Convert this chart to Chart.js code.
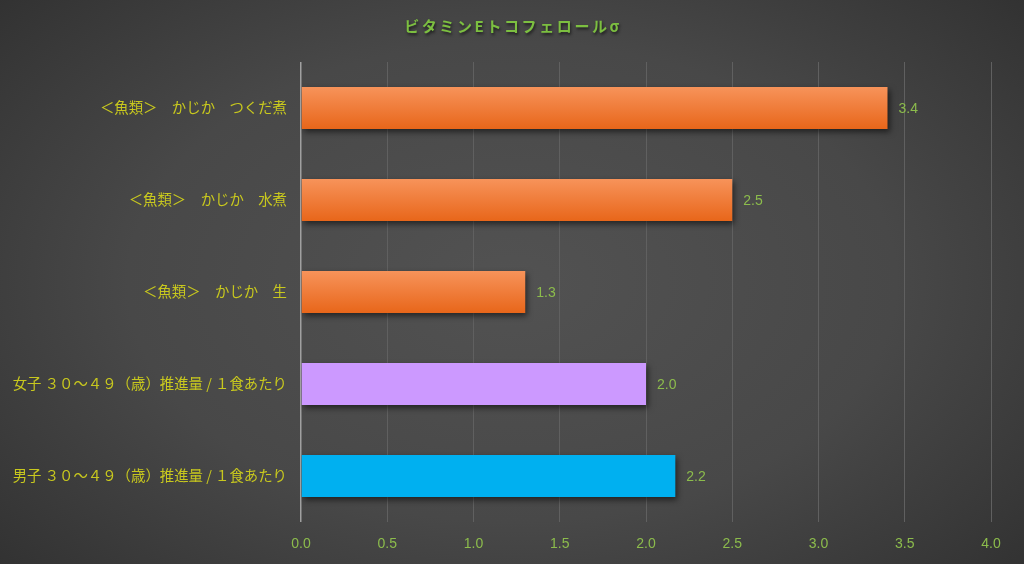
<!DOCTYPE html>
<html>
<head>
<meta charset="utf-8">
<script src="https://cdn.jsdelivr.net/npm/chart.js@4.4.1/dist/chart.umd.min.js"></script>
<style>
html,body{margin:0;padding:0;width:1024px;height:564px;overflow:hidden;}
body{background:radial-gradient(ellipse 75% 85% at 50% 50%, #525252 0%, #484848 50%, #2c2c2c 100%);}
#wrap{position:relative;width:1024px;height:564px;}
</style>
</head>
<body>
<div id="wrap"><canvas id="c" width="1024" height="564"></canvas></div>
<script>
const chartTitle = "ビタミンEトコフェロールσ";
const categories = [
  "＜魚類＞　かじか　つくだ煮",
  "＜魚類＞　かじか　水煮",
  "＜魚類＞　かじか　生",
  "女子 ３０～４９（歳）推進量 / １食あたり",
  "男子 ３０～４９（歳）推進量 / １食あたり"
];
const values = [3.4, 2.5, 1.3, 2.0, 2.17];
const valueLabels = ["3.4", "2.5", "1.3", "2.0", "2.2"];
const barKinds = ["food", "food", "food", "female", "male"];
const xTicks = [0, 0.5, 1, 1.5, 2, 2.5, 3, 3.5, 4];

const BAR_PCT = 0.457;
const numFont = '"Liberation Sans Narrow", "Liberation Sans", sans-serif';

const ctx = document.getElementById('c').getContext('2d');

function barColor(context) {
  const kind = barKinds[context.dataIndex];
  if (kind === 'female') return '#cc99ff';
  if (kind === 'male') return '#00b0f0';
  const chart = context.chart;
  const ys = chart.scales && chart.scales.y;
  if (!ys || !chart.chartArea) return '#ee7a2c';
  const cy = ys.getPixelForValue(context.dataIndex);
  const band = (chart.chartArea.bottom - chart.chartArea.top) / categories.length;
  const h = band * BAR_PCT;
  const g = chart.ctx.createLinearGradient(0, cy - h/2, 0, cy + h/2);
  g.addColorStop(0, '#f7935a');
  g.addColorStop(1, '#e8661a');
  return g;
}

const shadowPlugin = {
  id: 'barShadow',
  beforeDatasetDraw(chart) {
    const c = chart.ctx;
    c.save();
    c.shadowColor = 'rgba(0,0,0,0.55)';
    c.shadowBlur = 6;
    c.shadowOffsetX = 2;
    c.shadowOffsetY = 3;
  },
  afterDatasetDraw(chart) {
    chart.ctx.restore();
  }
};

const labelPlugin = {
  id: 'valueLabels',
  afterDatasetsDraw(chart) {
    const c = chart.ctx;
    const meta = chart.getDatasetMeta(0);
    c.save();
    c.font = '14px ' + numFont;
    c.fillStyle = '#8cbc4c';
    c.textAlign = 'left';
    c.textBaseline = 'middle';
    meta.data.forEach((el, i) => {
      c.fillText(valueLabels[i], el.x + 11, el.y + 1);
    });
    c.restore();
  }
};

const titlePlugin = {
  id: 'customTitle',
  afterDraw(chart) {
    const c = chart.ctx;
    c.save();
    c.font = 'bold 15px "Noto Sans CJK JP", sans-serif';
    try { c.letterSpacing = '2.6px'; } catch (e) {}
    c.textAlign = 'center';
    c.textBaseline = 'middle';
    c.shadowColor = 'rgba(0,0,0,0.6)';
    c.shadowBlur = 3;
    c.shadowOffsetX = 1;
    c.shadowOffsetY = 2;
    c.fillStyle = '#7cbf40';
    c.fillText(chartTitle, 513, 26);
    c.restore();
  }
};

new Chart(ctx, {
  type: 'bar',
  data: {
    labels: categories,
    datasets: [{
      data: values,
      backgroundColor: barColor,
      borderWidth: 0,
      barPercentage: BAR_PCT,
      categoryPercentage: 1.0
    }]
  },
  options: {
    indexAxis: 'y',
    responsive: false,
    animation: false,
    devicePixelRatio: 1,
    layout: { padding: { left: 0, right: 33, top: 62, bottom: 0 } },
    plugins: {
      legend: { display: false },
      tooltip: { enabled: false },
      title: { display: false }
    },
    scales: {
      x: {
        min: 0, max: 4,
        afterBuildTicks(scale) { scale.ticks = xTicks.map(v => ({ value: v })); },
        afterFit(scale) { scale.height = 42; },
        grid: {
          color: (c) => c.tick && c.tick.value === 0 ? '#a0a0a0' : '#606060',
          lineWidth: (c) => c.tick && c.tick.value === 0 ? 1.5 : 1,
          drawTicks: false
        },
        border: { display: false },
        ticks: {
          color: '#8cbc4c',
          padding: 14,
          font: { family: numFont, size: 14 },
          callback: (v) => Number(v).toFixed(1)
        }
      },
      y: {
        afterFit(scale) { scale.width = 301; },
        grid: { display: false, drawTicks: false },
        border: { display: false },
        ticks: {
          color: '#c8c81e',
          padding: 14,
          font: { family: '"Noto Sans CJK JP", sans-serif', size: 14.4 }
        }
      }
    }
  },
  plugins: [shadowPlugin, labelPlugin, titlePlugin]
});
</script>
</body>
</html>
